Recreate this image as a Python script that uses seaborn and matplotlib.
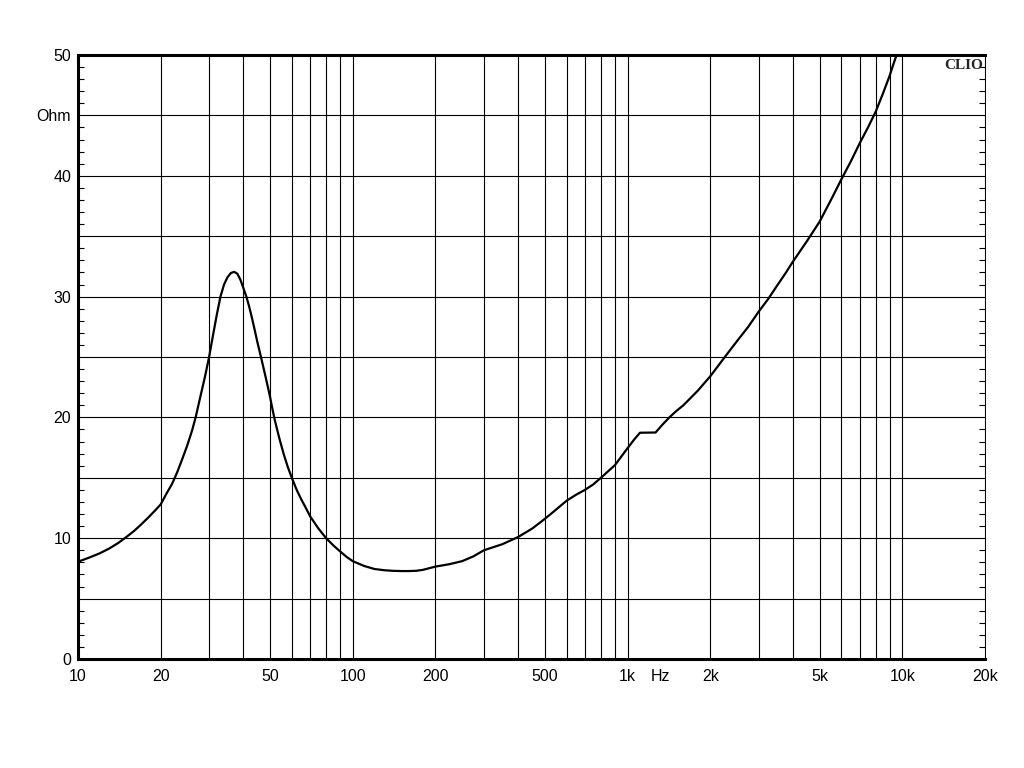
"""Impedance magnitude vs frequency, CLIO style."""

import matplotlib
matplotlib.use("Agg")
import matplotlib.pyplot as plt
from matplotlib.ticker import FixedLocator, MultipleLocator, NullLocator
import pandas as pd
import seaborn as sns

# values
FREQ_HZ = [10, 11, 12, 13, 14, 15, 16, 17, 18, 19, 20, 21, 22, 22.5, 23, 24, 25, 26, 26.8,
           28, 29, 30, 31, 32, 33, 34, 35, 36, 37, 38, 39, 40, 41, 42, 43, 44, 45, 46,
           47, 48, 49, 50, 51, 52, 54, 56, 58, 60, 62.5, 65, 67.5, 70, 75, 80, 85, 90,
           95, 100, 110, 120, 130, 140, 150, 160, 170, 180, 200, 225, 250, 275, 300,
           350, 400, 450, 500, 545, 600, 650, 700, 750, 800, 900, 1000, 1060, 1110,
           1265, 1340, 1420, 1500, 1596, 1800, 2000, 2260, 2500, 2750, 3000, 3250, 3500,
           3750, 4000, 4500, 5000, 5500, 6000, 6500, 7000, 7500, 8000, 8500, 9000, 9300,
           9600, 9900]
IMPEDANCE_OHM = [8.05, 8.4, 8.75, 9.15, 9.6, 10.1, 10.6, 11.15, 11.7, 12.25, 12.8, 13.7, 14.5,
                 15.0, 15.5, 16.6, 17.7, 18.9, 20.0, 21.9, 23.4, 25.0, 26.8, 28.5, 30.0,
                 31.0, 31.6, 31.95, 32.05, 31.9, 31.4, 30.7, 30.0, 29.15, 28.2, 27.2, 26.2,
                 25.3, 24.4, 23.5, 22.6, 21.7, 20.7, 19.8, 18.3, 17.0, 15.9, 15.0, 14.0,
                 13.2, 12.5, 11.8, 10.8, 10.0, 9.4, 8.9, 8.45, 8.1, 7.7, 7.45, 7.35, 7.3,
                 7.28, 7.28, 7.3, 7.38, 7.65, 7.85, 8.1, 8.5, 9.0, 9.5, 10.1, 10.8, 11.6,
                 12.3, 13.1, 13.6, 14.0, 14.45, 15.0, 16.05, 17.45, 18.2, 18.73, 18.75, 19.4,
                 20.0, 20.5, 21.0, 22.2, 23.4, 25.0, 26.3, 27.5, 28.75, 29.8, 30.9, 31.9,
                 32.9, 34.6, 36.2, 38.0, 39.7, 41.2, 42.7, 44.0, 45.3, 46.8, 48.3, 49.3,
                 50.2, 51.2]

GRID_FREQS = [10, 20, 30, 40, 50, 60, 70, 80, 90,
              100, 200, 300, 400, 500, 600, 700, 800, 900,
              1000, 2000, 3000, 4000, 5000, 6000, 7000, 8000, 9000,
              10000, 20000]
X_LABELS = {10: "10", 20: "20", 50: "50", 100: "100", 200: "200", 500: "500",
            1000: "1k", 2000: "2k", 5000: "5k", 10000: "10k", 20000: "20k"}
HZ_POS = 1320
Y_TICKS = [0, 5, 10, 15, 20, 25, 30, 35, 40, 45, 50]
Y_LABELS = ["0", "", "10", "", "20", "", "30", "", "40", "Ohm", "50"]


def main() -> None:
    sns.set_style("white")
    plt.rcParams["font.family"] = ["Liberation Sans", "DejaVu Sans"]

    df = pd.DataFrame({"freq": FREQ_HZ, "ohm": IMPEDANCE_OHM})

    fig = plt.figure(figsize=(10.24, 7.68), dpi=100)
    ax = fig.add_axes([78 / 1024, 1 - 659 / 768, 907 / 1024, 604 / 768])
    sns.lineplot(data=df, x="freq", y="ohm", color="black", lw=1.6, ax=ax, zorder=3)
    ax.set_xscale("log")
    ax.set(xlim=(10, 20000), ylim=(0, 50), xlabel="", ylabel="")

    xticks = sorted(GRID_FREQS + [HZ_POS])
    ax.xaxis.set_major_locator(FixedLocator(xticks))
    ax.xaxis.set_minor_locator(NullLocator())
    ax.set_xticklabels([X_LABELS.get(f, "Hz" if f == HZ_POS else "") for f in xticks])
    ax.set_yticks(Y_TICKS)
    ax.set_yticklabels(Y_LABELS)
    ax.yaxis.set_minor_locator(MultipleLocator(1))

    ax.grid(True, which="major", color="black", lw=0.8)
    for tick in ax.xaxis.get_major_ticks():
        if tick.get_loc() == HZ_POS:
            tick.gridline.set_visible(False)

    ax.tick_params(axis="both", which="major", length=0, labelsize=11.5, labelcolor="black")
    ax.tick_params(axis="x", pad=7)
    ax.tick_params(axis="y", pad=5)
    ax.tick_params(axis="y", which="minor", direction="in", length=4, width=0.8,
                   left=True, right=True, color="black")

    for side in ["left", "bottom", "top"]:
        ax.spines[side].set_linewidth(2.2)
        ax.spines[side].set_color("black")
    ax.spines["right"].set_linewidth(0.7)
    ax.spines["right"].set_color("black")

    ax.text(0.998, 0.994, "CLIO", transform=ax.transAxes, ha="right", va="top",
            fontfamily="Liberation Serif", fontweight="bold", fontsize=11, zorder=4)

    fig.savefig("out.png", dpi=100)
    plt.close(fig)


if __name__ == "__main__":
    main()
